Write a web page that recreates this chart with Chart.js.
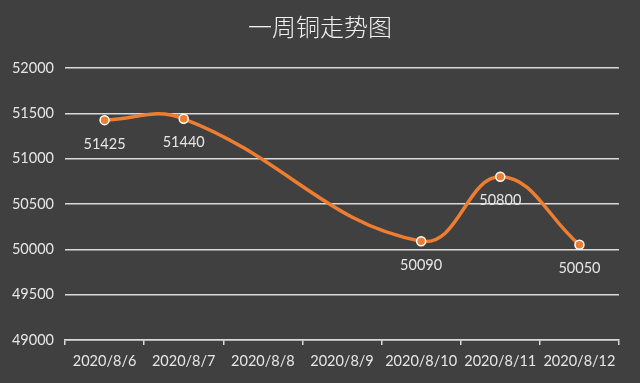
<!DOCTYPE html>
<html>
<head>
<meta charset="utf-8">
<script src="https://cdn.jsdelivr.net/npm/chart.js@4/dist/chart.umd.min.js"></script>
<style>
html,body{margin:0;padding:0;background:#404040;}
#wrap{width:640px;height:383px;}
</style>
</head>
<body>
<div id="wrap"><canvas id="c" width="640" height="383"></canvas></div>
<script>
const chartTitle = "一周铜走势图";
const categories = ["2020/8/6","2020/8/7","2020/8/8","2020/8/9","2020/8/10","2020/8/11","2020/8/12"];
const prices = [51425, 51440, null, null, 50090, 50800, 50050];
const yMin = 49000, yMax = 52000, yStep = 500;

const textColor = "#e6e6e6";
const lineColor = "#ED7D31";

const valueLabels = {
  id: "valueLabels",
  afterDatasetsDraw(chart) {
    const ctx = chart.ctx;
    const meta = chart.getDatasetMeta(0);
    ctx.save();
    ctx.font = "14.5px Lato";
    ctx.fillStyle = textColor;
    ctx.textAlign = "center";
    ctx.textBaseline = "middle";
    meta.data.forEach((el, i) => {
      const v = prices[i];
      if (v === null) return;
      ctx.fillText(String(v), el.x, el.y + 24);
    });
    ctx.restore();
  }
};

const bgAndTitle = {
  id: "bgAndTitle",
  beforeDraw(chart) {
    const ctx = chart.ctx;
    ctx.save();
    ctx.fillStyle = "#404040";
    ctx.fillRect(0, 0, chart.width, chart.height);
    ctx.fillStyle = "#f0f0f0";
    ctx.font = "300 24px 'Noto Sans CJK SC'";
    ctx.textAlign = "center";
    ctx.textBaseline = "middle";
    ctx.fillText(chartTitle, chart.width / 2, 27);
    ctx.restore();
  }
};

new Chart(document.getElementById("c"), {
  type: "line",
  data: {
    labels: categories,
    datasets: [{
      data: prices,
      borderColor: lineColor,
      borderWidth: 3.5,
      tension: 0.42,
      spanGaps: true,
      pointRadius: 4.5,
      pointBackgroundColor: lineColor,
      pointBorderColor: "#ffffff",
      pointBorderWidth: 1.5,
      fill: false
    }]
  },
  options: {
    responsive: false,
    animation: false,
    devicePixelRatio: 1,
    layout: { padding: { left: 0, right: 21, top: 68, bottom: 0 } },
    plugins: {
      legend: { display: false },
      tooltip: { enabled: false },
      title: { display: false }
    },
    scales: {
      x: {
        offset: true,
        grid: {
          offset: true,
          display: true,
          drawOnChartArea: false,
          drawTicks: true,
          tickLength: 5,
          color: "#d9d9d9",
          lineWidth: 1.5
        },
        border: { display: true, color: "#d9d9d9", width: 1.5 },
        ticks: {
          color: textColor,
          font: { family: "Lato", size: 14.5 },
          padding: 8,
          maxRotation: 0,
          autoSkip: false
        },
        afterFit(scale) { scale.height = 43; }
      },
      y: {
        min: yMin,
        max: yMax,
        ticks: {
          stepSize: yStep,
          color: textColor,
          font: { family: "Lato", size: 14.5 },
          padding: 11,
          callback: (v) => String(v)
        },
        grid: { color: "#d9d9d9", lineWidth: 1.5, drawTicks: false },
        border: { display: false },
        afterFit(scale) { scale.width = 65; }
      }
    }
  },
  plugins: [bgAndTitle, valueLabels]
});
</script>
</body>
</html>
